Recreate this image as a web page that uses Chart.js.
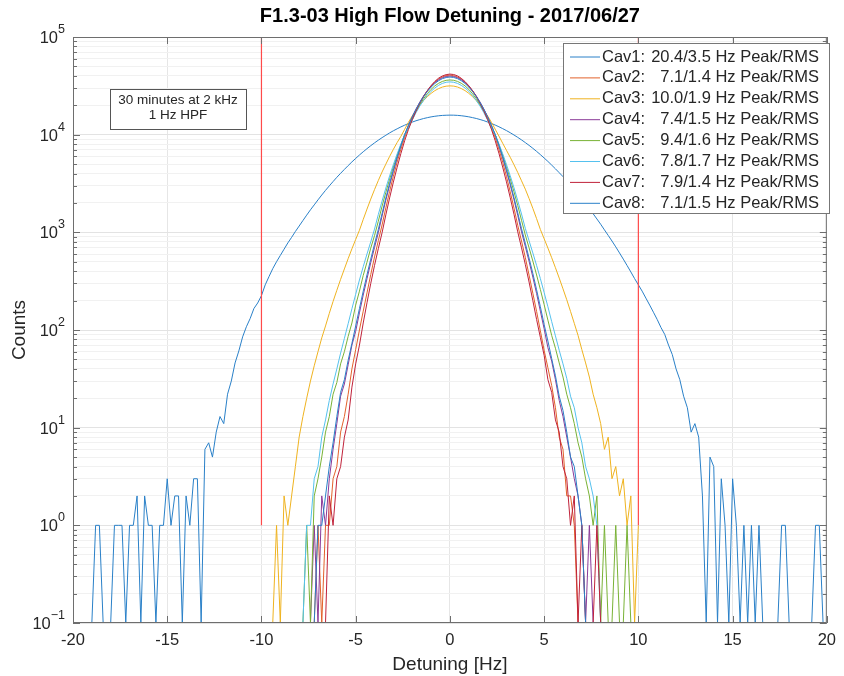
<!DOCTYPE html>
<html>
<head>
<meta charset="utf-8">
<script src="https://cdn.jsdelivr.net/npm/chart.js@4.4.1/dist/chart.umd.min.js"></script>
<style>
  html, body { margin: 0; padding: 0; background: #fff; }
</style>
</head>
<body>
<canvas id="myChart" width="844" height="676"></canvas>
<script>
// bin centres in Hz (0.2 Hz steps)
const wideBins = []
for (let i = 0; i <= 200; i++) wideBins.push(+(-20 + i * 0.2).toFixed(1))
const narrowBins = []
for (let i = 0; i <= 100; i++) narrowBins.push(+(-10 + i * 0.2).toFixed(1))

// counts per bin. cav1 on wideBins (-20..20), others on narrowBins (-10..10)
const cav1Counts = [
  0,0,0,0,0,0,1,1,0,0,
  0,1,1,1,0,1,1,2,0,2,
  1,1,0,1,1,3,1,2,2,0,
  2,1,3,3,0,6,7,5,9,13,
  11,22,30,46,61,85,108,131,166,189,
  225,290,352,425,500,580,672,779,888,1020,
  1160,1320,1500,1700,1910,2150,2410,2690,2990,3310,
  3660,4020,4410,4820,5260,5710,6190,6680,7190,7710,
  8240,8780,9320,9860,10420,10960,11480,12010,12510,12990,
  13450,13880,14260,14620,14930,15210,15430,15610,15740,15810,
  15850,15830,15760,15630,15450,15230,14950,14650,14290,13910,
  13480,13030,12550,12050,11530,11010,10470,9920,9380,8840,
  8300,7770,7250,6740,6250,5770,5320,4880,4470,4080,
  3720,3370,3050,2750,2470,2210,1970,1750,1550,1370,
  1210,1060,930,815,710,615,532,458,393,336,
  290,250,212,180,152,128,106,90,70,56,
  40,31,21,16,9,11,8,2,0,5,
  4,0,3,1,0,3,1,0,1,0,
  1,0,1,0,0,0,0,0,1,1,
  0,0,0,0,0,0,0,1,1,0,
  0
]
const cav2Counts = [
  0,0,0,0,0,0,0,0,0,0,
  0,0,0,0,0,1,0,1,1,3,
  4,9,13,22,40,63,100,156,240,370,
  560,820,1190,1780,2620,3750,5250,7100,9400,11900,
  14700,17800,21100,24600,28100,31500,34600,37200,39100,40300,
  40700,40200,39000,37100,34500,31400,28000,24500,21000,17700,
  14600,11800,9350,7080,5230,3740,2600,1770,1180,815,
  555,365,238,155,98,62,41,27,16,8,
  6,2,2,1,0,0,0,0,0,0,
  0,0,0,0,0,0,0,0,0,0,
  0
]
const cav3Counts = [
  0,0,0,0,1,0,2,1,2,4,
  8,13,20,30,43,60,83,110,148,196,
  255,330,422,538,678,845,1050,1355,1730,2190,
  2740,3390,4150,4990,5980,7080,8310,9620,11360,13380,
  15540,17800,20080,22320,24480,26480,28230,29630,30730,31380,
  31600,31420,30770,29670,28270,26520,24520,22360,20120,17840,
  15580,13420,11400,9670,8170,6920,5870,4920,4100,3370,
  2770,2220,1760,1380,1070,860,690,550,434,340,
  264,204,155,117,88,63,46,33,22,16,
  11,6,8,3,4,2,3,1,2,0,
  1
]
const cav4Counts = [
  0,0,0,0,0,0,0,0,0,0,
  0,0,0,0,1,0,2,1,3,6,
  11,21,28,44,70,97,150,228,335,490,
  700,990,1470,2140,3030,4210,5740,7650,9980,12440,
  15230,18280,21520,24860,28180,31280,34130,36480,38280,39380,
  39800,39420,38320,36520,34170,31320,28220,24900,21560,18320,
  15270,12480,10020,7690,5780,4250,3070,2160,1490,1010,
  720,505,348,236,156,103,66,48,31,19,
  13,8,5,3,2,1,0,1,0,0,
  0,0,0,0,0,0,0,0,0,0,
  0
]
const cav5Counts = [
  0,0,0,0,0,0,0,0,0,0,
  0,0,1,0,2,3,5,9,13,22,
  29,45,60,86,118,180,250,362,495,690,
  925,1300,1850,2570,3500,4680,6130,7890,9980,11680,
  14280,17180,20180,23280,26280,29080,31580,33580,35080,35980,
  36300,36020,35120,33620,31620,29120,26320,23320,20220,17220,
  14320,11720,10020,7930,6170,4710,3530,2600,1880,1330,
  940,695,508,366,260,182,126,88,65,46,
  33,22,16,11,7,5,3,2,1,2,
  0,1,0,0,1,0,0,1,0,0,
  0
]
const cav6Counts = [
  0,0,0,0,0,0,0,0,0,0,
  0,0,1,1,3,4,8,12,19,28,
  40,58,82,116,165,232,325,445,600,800,
  1080,1520,2090,2840,3780,4940,6360,8040,9990,11690,
  14090,16790,19590,22390,25190,27790,30090,31990,33490,34390,
  34700,34410,33510,32010,30110,27810,25210,22410,19610,16810,
  14110,11710,10010,8060,6380,4960,3800,2860,2110,1540,
  1100,820,615,458,336,242,173,122,87,62,
  45,32,21,16,10,7,4,3,2,1,
  0,0,0,0,0,0,0,0,0,0,
  0
]
const cav7Counts = [
  0,0,0,0,0,0,0,0,0,0,
  0,0,0,0,0,0,0,0,2,1,
  3,4,8,12,26,45,70,118,190,300,
  458,680,990,1510,2250,3270,4640,6420,8680,11300,
  14200,17400,20900,24500,28200,31800,35100,37900,39900,41200,
  41700,41300,40000,37800,35000,31700,28300,24600,20900,17500,
  14300,11400,8700,6450,4660,3290,2270,1530,1010,695,
  470,310,200,128,84,55,31,23,12,9,
  4,3,1,2,0,1,0,0,0,1,
  0,0,0,0,0,0,0,0,0,0,
  0
]
const cav8Counts = [
  0,0,0,0,0,0,0,0,0,0,
  0,0,0,0,0,1,1,2,4,7,
  13,23,31,49,73,110,166,250,368,532,
  760,1070,1560,2250,3170,4350,5880,7760,10020,12480,
  15180,18180,21280,24480,27680,30680,33430,35680,37430,38480,
  38900,38520,37470,35720,33470,30720,27720,24520,21320,18220,
  15220,12520,10070,7800,5920,4390,3190,2270,1580,1090,
  775,545,380,258,173,114,77,51,34,21,
  15,9,5,4,2,1,0,0,0,0,
  0,0,0,0,0,0,0,0,0,0,
  0
]

const cavNames = ['Cav1:', 'Cav2:', 'Cav3:', 'Cav4:', 'Cav5:', 'Cav6:', 'Cav7:', 'Cav8:']
const cavStats = ['20.4/3.5 Hz Peak/RMS', '7.1/1.4 Hz Peak/RMS', '10.0/1.9 Hz Peak/RMS', '7.4/1.5 Hz Peak/RMS',
                  '9.4/1.6 Hz Peak/RMS', '7.8/1.7 Hz Peak/RMS', '7.9/1.4 Hz Peak/RMS', '7.1/1.5 Hz Peak/RMS']
const cavColors = ['#2a80c8', '#e2612b', '#efb320', '#8b3a98', '#79b236', '#55c1ee', '#c0223a', '#2a80c8']
const cavCounts = [cav1Counts, cav2Counts, cav3Counts, cav4Counts, cav5Counts, cav6Counts, cav7Counts, cav8Counts]
const cavBins = [wideBins, narrowBins, narrowBins, narrowBins, narrowBins, narrowBins, narrowBins, narrowBins]

const limitX = [-10, 10]
const limitY = [1, 1e5]
const xTicks = [-20, -15, -10, -5, 0, 5, 10, 15, 20]
const yDecades = [-1, 0, 1, 2, 3, 4, 5]
const noteLines = ['30 minutes at 2 kHz', '1 Hz HPF']

const yGrid = []
for (const e of yDecades) {
  if (e === 5) { yGrid.push(1e5); break }
  for (let m = 1; m <= 9; m++) yGrid.push(+(m * Math.pow(10, e)).toPrecision(3))
}
const isDecade = v => Math.abs(Math.log10(v) - Math.round(Math.log10(v))) < 1e-6

const FONT = "'Liberation Sans', Arial, Helvetica, sans-serif"
const TEXT = '#262626'

const datasets = []
limitX.forEach(xv => {
  datasets.push({
    data: limitY.map(yv => ({ x: xv, y: yv })),
    borderColor: '#ff4a4a', borderWidth: 1.2, order: 0
  })
})
cavCounts.forEach((counts, i) => {
  datasets.push({
    label: cavNames[i],
    // empty bins sit on the 10^-1 floor
    data: counts.map((c, j) => ({ x: cavBins[i][j], y: c > 0 ? c : 0.1 })),
    borderColor: cavColors[i],
    borderWidth: 1,
    order: 8 - i
  })
})

const matlabAxes = {
  id: 'matlabAxes',
  afterDatasetsDraw(chart) {
    const { ctx, chartArea: a, scales: { x, y } } = chart
    ctx.save()
    // box + inward ticks
    ctx.strokeStyle = '#6e6e6e'
    ctx.lineWidth = 1
    ctx.strokeRect(a.left + 0.5, a.top + 0.5, a.right - a.left - 1, a.bottom - a.top - 1)
    ctx.beginPath()
    for (const xv of xTicks) {
      const px = Math.round(x.getPixelForValue(xv)) + 0.5
      ctx.moveTo(px, a.bottom); ctx.lineTo(px, a.bottom - 7)
      ctx.moveTo(px, a.top); ctx.lineTo(px, a.top + 7)
    }
    for (const yv of yGrid) {
      const py = Math.round(y.getPixelForValue(yv)) + 0.5
      const len = isDecade(yv) ? 7 : 4
      ctx.moveTo(a.left, py); ctx.lineTo(a.left + len, py)
      ctx.moveTo(a.right, py); ctx.lineTo(a.right - len, py)
    }
    ctx.stroke()

    // y tick labels 10^n
    ctx.fillStyle = TEXT
    ctx.textBaseline = 'alphabetic'
    for (const e of yDecades) {
      const py = y.getPixelForValue(Math.pow(10, e))
      const expText = String(e).replace('-', '\u2212')
      ctx.font = `12.5px ${FONT}`
      const ew = ctx.measureText(expText).width
      ctx.textAlign = 'left'
      ctx.fillText(expText, 65 - ew, py - 4)
      ctx.font = `16.5px ${FONT}`
      ctx.textAlign = 'right'
      ctx.fillText('10', 65 - ew, py + 6)
    }

    // legend
    const lx = 563, ly = 43, lw = 266, lh = 170
    ctx.fillStyle = '#fff'
    ctx.fillRect(lx, ly, lw, lh)
    ctx.strokeStyle = '#777'
    ctx.strokeRect(lx + 0.5, ly + 0.5, lw, lh)
    ctx.font = `16.5px ${FONT}`
    ctx.textBaseline = 'middle'
    cavNames.forEach((name, i) => {
      const ry = 57 + i * 20.9
      ctx.strokeStyle = cavColors[i]
      ctx.lineWidth = 1
      ctx.beginPath(); ctx.moveTo(570, ry); ctx.lineTo(600, ry); ctx.stroke()
      ctx.fillStyle = TEXT
      ctx.textAlign = 'left'
      ctx.fillText(name, 602, ry)
      ctx.textAlign = 'right'
      ctx.fillText(cavStats[i], 819, ry)
    })

    // annotation box
    ctx.fillStyle = '#fff'
    ctx.fillRect(110, 89, 136, 40)
    ctx.strokeStyle = '#555'
    ctx.strokeRect(110.5, 89.5, 136, 40)
    ctx.fillStyle = TEXT
    ctx.font = `13.5px ${FONT}`
    ctx.textAlign = 'center'
    noteLines.forEach((t, i) => ctx.fillText(t, 178, 100 + i * 15.7))
    ctx.restore()
  }
}

const ctx = document.getElementById('myChart').getContext('2d')
const chart = new Chart(ctx, {
  type: 'line',
  data: { datasets },
  options: {
    responsive: false,
    animation: false,
    devicePixelRatio: 1,
    layout: { padding: { left: 0, right: 13, top: 0, bottom: 0 } },
    elements: { point: { radius: 0 }, line: { tension: 0 } },
    plugins: {
      legend: { display: false },
      tooltip: { enabled: false },
      title: {
        display: true,
        text: 'F1.3-03 High Flow Detuning - 2017/06/27',
        fullSize: false,
        color: '#000',
        font: { family: FONT, size: 20, weight: 'bold', lineHeight: 1.2 },
        padding: { top: 4, bottom: 9 }
      }
    },
    scales: {
      x: {
        type: 'linear', min: -20, max: 20,
        ticks: { stepSize: 5, color: TEXT, font: { family: FONT, size: 16.5 }, padding: 8, maxRotation: 0 },
        grid: { color: '#e6e6e6', drawTicks: false },
        border: { display: false },
        title: { display: true, text: 'Detuning [Hz]', color: TEXT, font: { family: FONT, size: 19, lineHeight: 1.2 }, padding: { top: 2.6, bottom: 0 } },
        afterFit: s => { s.height = 53 }
      },
      y: {
        type: 'logarithmic', min: 0.1, max: 1e5,
        ticks: { display: false },
        afterBuildTicks: s => { s.ticks = yGrid.map(v => ({ value: v })) },
        grid: { color: c => (c.tick && isDecade(c.tick.value)) ? '#e3e3e3' : '#f1f1f1', drawTicks: false },
        border: { display: false },
        title: { display: true, text: 'Counts', color: TEXT, font: { family: FONT, size: 19, lineHeight: 1.2 }, padding: { top: 8.6, bottom: 0 } },
        afterFit: s => { s.width = 73 }
      }
    }
  },
  plugins: [matlabAxes]
})
</script>
</body>
</html>
